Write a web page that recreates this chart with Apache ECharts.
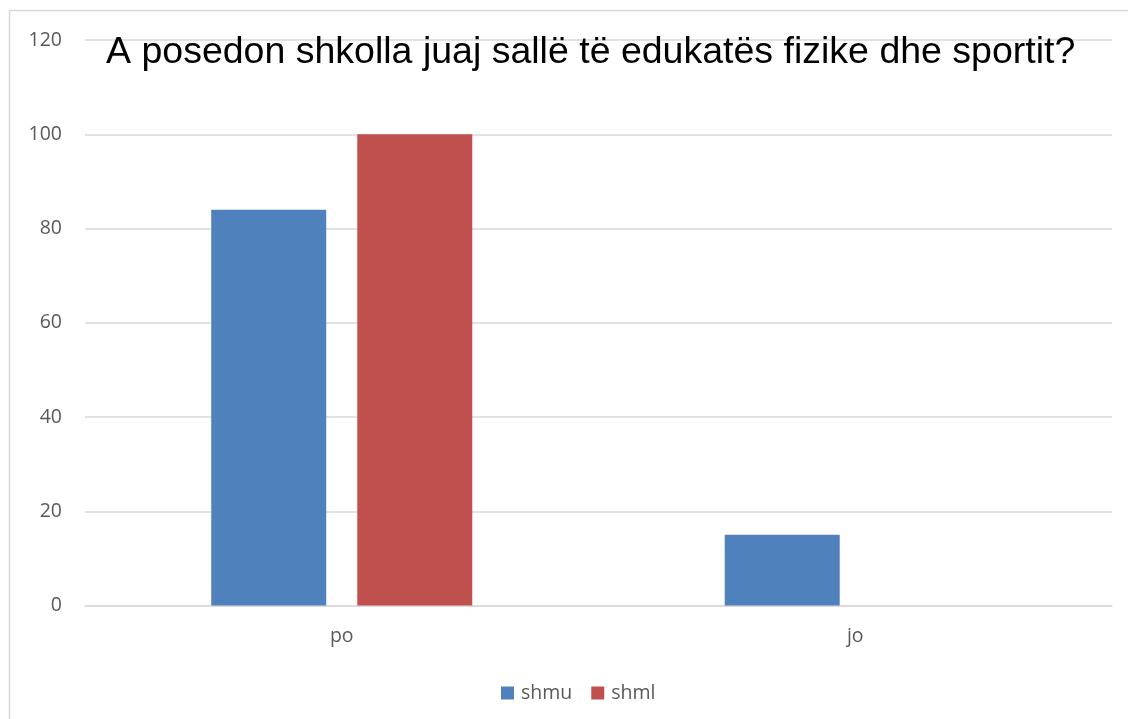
<!DOCTYPE html>
<html>
<head>
<meta charset="utf-8">
<script src="https://cdn.jsdelivr.net/npm/echarts@6/dist/echarts.min.js"></script>
<style>html,body{margin:0;padding:0;background:#fff}#c{width:1128px;height:719px}</style>
</head>
<body>
<div id="c"></div>
<script>
const titleText = "A posedon shkolla juaj sallë të edukatës fizike dhe sportit?";
const categories = ["po", "jo"];
const seriesNames = ["shmu", "shml"];
const shmuValues = [84, 15];
const shmlValues = [100, 0];
const yTicks = [0, 20, 40, 60, 80, 100, 120];

const chart = echarts.init(document.getElementById('c'), null, {renderer: 'canvas'});
const labelFont = "'Open Sans', 'Noto Sans', sans-serif";
chart.setOption({
  animation: false,
  backgroundColor: '#fff',
  graphic: [{
    type: 'rect', shape: {x: 9.5, y: 10.5, width: 1130, height: 720},
    style: {fill: 'none', stroke: '#D9D9D9', lineWidth: 1.5}, silent: true, z: -1
  }],
  title: {
    text: titleText, left: 101, top: 29,
    textStyle: {fontFamily: "'Liberation Sans', Arial, sans-serif", fontSize: 37.5, fontWeight: 'normal', color: '#000'}
  },
  legend: {
    data: seriesNames, left: 496, top: 678, itemWidth: 13, itemHeight: 13, itemGap: 19,
    icon: 'rect',
    textStyle: {fontFamily: labelFont, fontSize: 19.5, color: '#595959', padding: [0, 0, 0, 2]}
  },
  grid: {left: 85, right: 16, top: 40, bottom: 113.5, containLabel: false},
  xAxis: {
    type: 'category', data: categories,
    axisLine: {show: true, lineStyle: {color: '#D9D9D9', width: 1.5}},
    axisTick: {show: false},
    axisLabel: {margin: 21, fontFamily: labelFont, fontSize: 19.5, color: '#595959'}
  },
  yAxis: {
    type: 'value', min: yTicks[0], max: yTicks[yTicks.length - 1], interval: 20,
    axisLine: {show: false}, axisTick: {show: false},
    splitLine: {lineStyle: {color: '#D9D9D9', width: 1.5}},
    axisLabel: {margin: 23, fontFamily: labelFont, fontSize: 19.5, color: '#595959'}
  },
  series: [
    {name: seriesNames[0], type: 'bar', data: shmuValues, barWidth: 115, barGap: '27%', itemStyle: {color: '#4F81BD'}},
    {name: seriesNames[1], type: 'bar', data: shmlValues, barWidth: 115, itemStyle: {color: '#C0504D'}}
  ]
});
</script>
</body>
</html>
